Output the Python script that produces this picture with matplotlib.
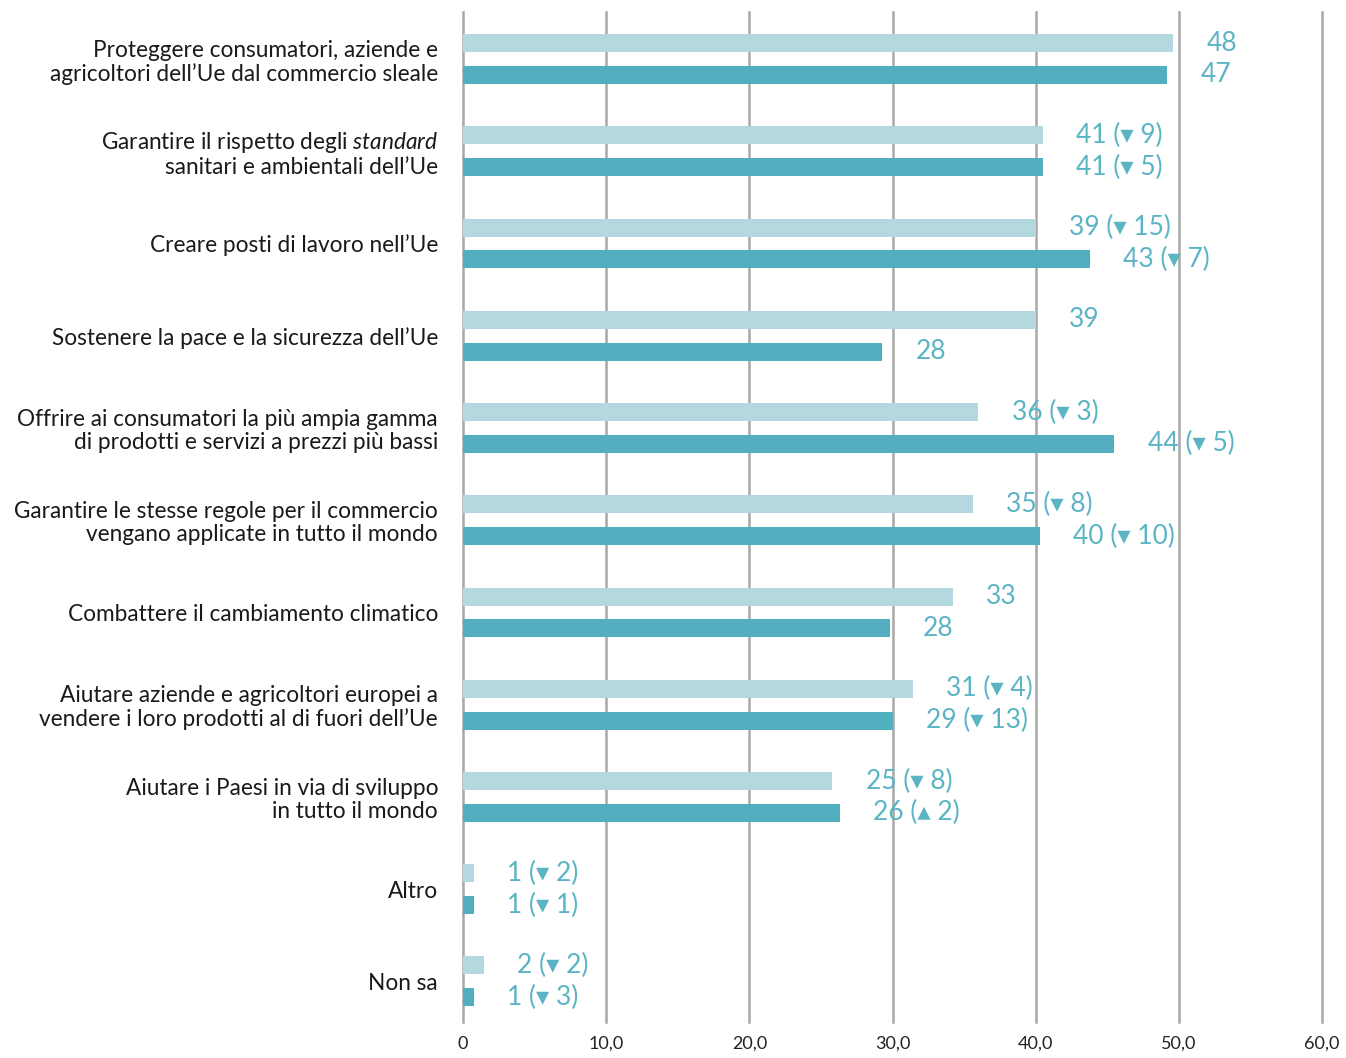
import numpy as np
import matplotlib
matplotlib.use('Agg')
import matplotlib.pyplot as plt

plt.rcParams['font.family'] = ['Lato', 'DejaVu Sans']
plt.rcParams['mathtext.fontset'] = 'custom'
plt.rcParams['mathtext.it'] = 'Lato:italic'

categories = [
    "Proteggere consumatori, aziende e\nagricoltori dell\u2019Ue dal commercio sleale",
    "Garantire il rispetto degli $\\mathit{standard}$\nsanitari e ambientali dell\u2019Ue",
    "Creare posti di lavoro nell\u2019Ue",
    "Sostenere la pace e la sicurezza dell\u2019Ue",
    "Offrire ai consumatori la pi\u00f9 ampia gamma\ndi prodotti e servizi a prezzi pi\u00f9 bassi",
    "Garantire le stesse regole per il commercio\nvengano applicate in tutto il mondo",
    "Combattere il cambiamento climatico",
    "Aiutare aziende e agricoltori europei a\nvendere i loro prodotti al di fuori dell\u2019Ue",
    "Aiutare i Paesi in via di sviluppo\nin tutto il mondo",
    "Altro",
    "Non sa",
]

# bar lengths as drawn in the picture
bars_light = [49.6, 40.5, 40.0, 40.0, 36.0, 35.6, 34.2, 31.4, 25.8, 0.77, 1.47]
bars_dark = [49.2, 40.5, 43.8, 29.3, 45.5, 40.3, 29.8, 30.0, 26.3, 0.77, 0.77]

# printed labels
labels_light = ["48", "41 (\u25be 9)", "39 (\u25be 15)", "39", "36 (\u25be 3)", "35 (\u25be 8)",
                "33", "31 (\u25be 4)", "25 (\u25be 8)", "1 (\u25be 2)", "2 (\u25be 2)"]
labels_dark = ["47", "41 (\u25be 5)", "43 (\u25be 7)", "28", "44 (\u25be 5)", "40 (\u25be 10)",
               "28", "29 (\u25be 13)", "26 (\u25b4 2)", "1 (\u25be 1)", "1 (\u25be 3)"]

xticks = [0, 10, 20, 30, 40, 50, 60]
xticklabels = ["0", "10,0", "20,0", "30,0", "40,0", "50,0", "60,0"]

light = '#b3d8e0'
dark = '#52afbf'
txt = '#5ab4c4'

fig = plt.figure(figsize=(13.46, 10.58), dpi=100)
ax = fig.add_axes([463/1346, 1 - 1022/1058, (1322 - 463)/1346, (1022 - 12)/1058])

y = np.arange(len(categories))
off = 0.173
h = 0.195
ax.barh(y - off, bars_light, height=h, color=light, zorder=2)
ax.barh(y + off, bars_dark, height=h, color=dark, zorder=2)

for i in range(len(categories)):
    ax.annotate(labels_light[i], (bars_light[i], y[i] - off), xytext=(24, 0),
                textcoords='offset points', va='center', ha='left',
                fontsize=19, color=txt, zorder=3)
    ax.annotate(labels_dark[i], (bars_dark[i], y[i] + off), xytext=(24, 0),
                textcoords='offset points', va='center', ha='left',
                fontsize=19, color=txt, zorder=3)

ax.set_xlim(0, 60)
ax.set_ylim(len(categories) - 1 + 0.44, -0.51)
ax.set_xticks(xticks)
ax.set_xticklabels(xticklabels, fontsize=13, color='#222222')
ax.tick_params(axis='x', length=0, pad=10)
ax.set_yticks(y)
ax.set_yticklabels(categories, fontsize=16.3, color='#1a1a1a', linespacing=1.12)
for lab in ax.get_yticklabels():
    lab.set_y(lab.get_position()[1])
ax.tick_params(axis='y', length=0, pad=18)
ax.grid(axis='x', color='#a8a8a8', linewidth=1.8, zorder=1)
for gl in ax.get_xgridlines():
    gl.set_clip_on(False)
for s in ax.spines.values():
    s.set_visible(False)

plt.savefig('out.png', dpi=100)
